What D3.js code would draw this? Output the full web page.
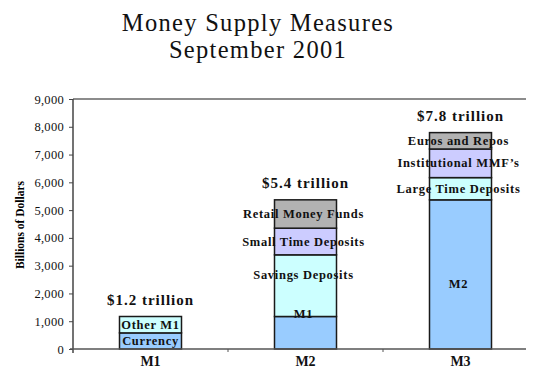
<!DOCTYPE html>
<html>
<head>
<meta charset="utf-8">
<script src="https://cdn.jsdelivr.net/npm/d3@7/dist/d3.min.js"></script>
<style>
  body { margin: 0; background: #fff; }
  svg text { font-family: "Liberation Serif", "Times New Roman", serif !important; }
</style>
</head>
<body>
<svg width="560" height="392"></svg>
<script>
const categories = ['M1', 'M2', 'M3'];
const totalLabels = ['$1.2 trillion', '$5.4 trillion', '$7.8 trillion'];
// stacked components per measure, bottom to top (billions of dollars)
const m1Parts = [
  { name: 'Currency', value: 580, color: 'blue' },
  { name: 'Other M1', value: 590, color: 'cyan' }
];
const m2Parts = [
  { name: 'M1', value: 1170, color: 'blue' },
  { name: 'Savings Deposits', value: 2220, color: 'cyan' },
  { name: 'Small Time Deposits', value: 960, color: 'lavender' },
  { name: 'Retail Money Funds', value: 1020, color: 'gray' }
];
const m3Parts = [
  { name: 'M2', value: 5370, color: 'blue' },
  { name: 'Large Time Deposits', value: 800, color: 'cyan' },
  { name: 'Institutional MMF\u2019s', value: 1030, color: 'lavender' },
  { name: 'Euros and Repos', value: 590, color: 'gray' }
];
const yTicks = [0, 1000, 2000, 3000, 4000, 5000, 6000, 7000, 8000, 9000];

const fills = { blue: '#99ccff', cyan: '#ccffff', lavender: '#ccccff', gray: '#b2b2b2' };
// vertical nudge of a few labels relative to their segment middle
const labelShift = { 'Savings Deposits': -11, 'M1': -19, 'M2': 10 };

const svg = d3.select('svg');
const plotLeft = 73, plotRight = 526, plotTop = 99, plotBottom = 349;

const xScale = d3.scaleBand().domain(categories).range([plotLeft, 538]);
const yScale = d3.scaleLinear().domain([0, 9000]).range([plotBottom, plotTop]);
const barW = 62;

// title
svg.append('text')
  .attr('x', 258).attr('y', 31)
  .attr('text-anchor', 'middle')
  .style('font-size', '24.5px').style('letter-spacing', '1.3px')
  .attr('fill', '#111')
  .text('Money Supply Measures');
svg.append('text')
  .attr('x', 258).attr('y', 58)
  .attr('text-anchor', 'middle')
  .style('font-size', '24.5px').style('letter-spacing', '1.3px')
  .attr('fill', '#111')
  .text('September 2001');

// frame lines
svg.append('line')
  .attr('x1', plotLeft).attr('x2', plotRight).attr('y1', plotTop).attr('y2', plotTop)
  .attr('stroke', '#666').attr('stroke-width', 1.5);

const yAxis = d3.axisLeft(yScale)
  .tickValues(yTicks)
  .tickFormat(d3.format(','))
  .tickSize(4)
  .tickPadding(5);
const yAxisG = svg.append('g')
  .attr('transform', `translate(${plotLeft},0)`)
  .call(yAxis)
  .attr('font-family', null);
yAxisG.select('.domain').remove();
yAxisG.selectAll('.tick line').attr('stroke', '#444');
yAxisG.selectAll('.tick text')
  .style('font-size', '12.5px')
  .style('letter-spacing', '0.3px')
  .attr('fill', '#111');
svg.append('line')
  .attr('x1', plotLeft).attr('x2', plotLeft).attr('y1', plotTop).attr('y2', plotBottom + 4)
  .attr('stroke', '#444').attr('stroke-width', 1.5);

svg.append('text')
  .attr('transform', `translate(24, 225) rotate(-90)`)
  .attr('text-anchor', 'middle')
  .style('font-size', '11.5px').style('font-weight', 'bold')
  .text('Billions of Dollars');

// bars
const allParts = [m1Parts, m2Parts, m3Parts];
categories.forEach((cat, i) => {
  let acc = 0;
  const segs = allParts[i].map(p => {
    const s = { ...p, y0: acc, y1: acc + p.value };
    acc += p.value;
    return s;
  });
  const cx = xScale(cat) + xScale.bandwidth() / 2;
  const g = svg.append('g');

  g.selectAll('rect')
    .data(segs)
    .join('rect')
    .attr('x', cx - barW / 2)
    .attr('width', barW)
    .attr('y', d => yScale(d.y1))
    .attr('height', d => yScale(d.y0) - yScale(d.y1))
    .attr('fill', d => fills[d.color])
    .attr('stroke', '#1a1a1a')
    .attr('stroke-width', 1.5);

  g.selectAll('text.seg')
    .data(segs)
    .join('text')
    .attr('class', 'seg')
    .attr('x', cx - (i > 0 ? 2 : 0))
    .attr('y', d => (yScale(d.y0) + yScale(d.y1)) / 2 + 4 + (labelShift[d.name] || 0))
    .attr('text-anchor', 'middle')
    .style('font-size', '12.5px')
    .style('font-weight', 'bold')
    .style('letter-spacing', '0.7px')
    .attr('fill', '#111')
    .text(d => d.name);

  g.append('text')
    .attr('x', cx)
    .attr('y', yScale(acc) - 12)
    .attr('text-anchor', 'middle')
    .style('font-size', '15px').style('font-weight', 'bold')
    .style('letter-spacing', '1px')
    .attr('fill', '#111')
    .text(totalLabels[i]);
});

// x axis
const xAxis = d3.axisBottom(xScale).tickSize(0).tickPadding(7);
const xAxisG = svg.append('g')
  .attr('transform', `translate(0,${plotBottom})`)
  .call(xAxis)
  .attr('font-family', null);
xAxisG.select('.domain').remove();
xAxisG.selectAll('.tick text')
  .style('font-size', '14px').style('font-weight', 'bold')
  .attr('fill', '#111');
svg.append('line')
  .attr('x1', plotLeft - 3).attr('x2', plotRight).attr('y1', plotBottom).attr('y2', plotBottom)
  .attr('stroke', '#555').attr('stroke-width', 1.5);
svg.selectAll('line.xt')
  .data(categories.slice(1))
  .join('line')
  .attr('class', 'xt')
  .attr('x1', d => xScale(d)).attr('x2', d => xScale(d))
  .attr('y1', plotBottom).attr('y2', plotBottom + 3)
  .attr('stroke', '#555');
</script>
</body>
</html>
